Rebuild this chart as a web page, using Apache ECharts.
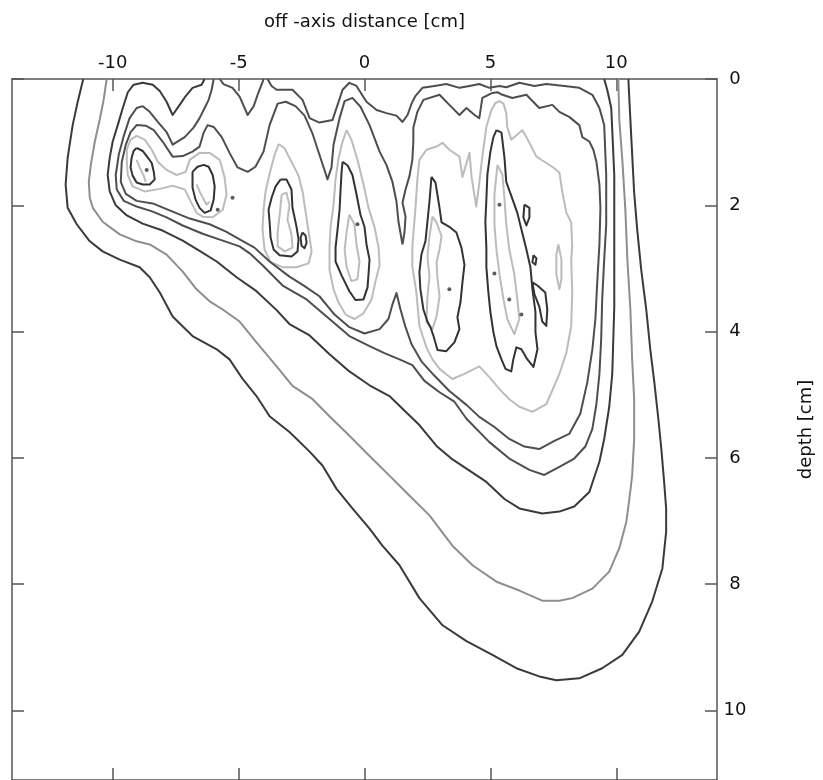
<!DOCTYPE html>
<html><head><meta charset="utf-8">
<script src="https://cdn.jsdelivr.net/npm/echarts@6/dist/echarts.min.js"></script>
<style>html,body{margin:0;padding:0;background:#fff}#c{width:823px;height:780px}</style>
</head><body><div id="c"></div>
<script>
// tick values
const xTicks = [-10, -5, 0, 5, 10];
const yTicks = [0, 2, 4, 6, 8, 10];

// contour lines [off-axis cm, depth cm]
const isoC1 = [[-11.17,0],[-11.39,0.36],[-11.59,0.73],[-11.71,1.04],[-11.79,1.25],[-11.87,1.67],[-11.79,2.04],[-11.43,2.30],[-10.91,2.57],[-10.40,2.73],[-9.72,2.86],[-8.93,2.98],[-8.53,3.14],[-8.13,3.38],[-7.62,3.76],[-6.83,4.07],[-5.87,4.28],[-5.36,4.44],[-4.84,4.75],[-4.29,5.02],[-3.77,5.34],[-2.98,5.59],[-2.18,5.90],[-1.67,6.12],[-1.11,6.49],[-0.48,6.80],[0.20,7.12],[0.71,7.39],[1.39,7.70],[2.18,8.22],[3.10,8.65],[4.05,8.90],[5.08,9.12],[6.03,9.33],[6.94,9.46],[7.62,9.52],[8.53,9.49],[9.44,9.33],[10.24,9.12],[10.91,8.75],[11.43,8.27],[11.83,7.75],[11.98,7.17],[11.98,6.80],[11.90,6.38],[11.79,5.86],[11.67,5.38],[11.51,4.80],[11.35,4.28],[11.19,3.65],[10.99,3.02],[10.83,2.38],[10.71,1.80],[10.60,0.96],[10.52,0.33],[10.48,0]];
const isoC2 = [[-10.24,0],[-10.36,0.33],[-10.52,0.65],[-10.71,0.99],[-10.87,1.36],[-10.95,1.63],[-10.91,1.88],[-10.79,2.04],[-10.40,2.26],[-9.72,2.46],[-9.05,2.57],[-8.53,2.62],[-7.86,2.78],[-7.22,3.05],[-6.67,3.33],[-6.15,3.52],[-5.63,3.65],[-4.96,3.84],[-4.29,4.17],[-3.49,4.55],[-2.86,4.86],[-2.06,5.07],[-1.39,5.34],[-0.60,5.65],[0.20,5.97],[0.99,6.28],[1.79,6.60],[2.58,6.91],[3.49,7.39],[4.29,7.70],[5.24,7.96],[6.15,8.10],[7.06,8.26],[7.74,8.26],[8.25,8.22],[9.05,8.07],[9.72,7.80],[10.12,7.43],[10.40,7.01],[10.52,6.65],[10.63,6.28],[10.71,5.70],[10.71,5.07],[10.63,4.44],[10.56,3.65],[10.44,2.86],[10.36,2.07],[10.24,1.28],[10.12,0.65],[10.08,0]];
const isoC3 = [[-6.35,0],[-6.47,0.09],[-6.83,0.14],[-7.10,0.27],[-7.34,0.41],[-7.62,0.57],[-7.86,0.36],[-8.13,0.19],[-8.41,0.09],[-8.81,0.06],[-9.17,0.09],[-9.40,0.21],[-9.60,0.46],[-9.80,0.73],[-10.00,0.99],[-10.12,1.25],[-10.20,1.52],[-10.12,1.78],[-9.88,2.00],[-9.44,2.16],[-8.81,2.29],[-8.02,2.40],[-7.22,2.56],[-6.55,2.72],[-5.87,2.89],[-5.08,3.14],[-4.29,3.36],[-3.49,3.66],[-2.98,3.88],[-2.18,4.06],[-1.39,4.36],[-0.60,4.63],[0.20,4.85],[0.99,5.02],[1.51,5.22],[2.18,5.48],[2.86,5.81],[3.45,6.01],[4.17,6.20],[4.84,6.38],[5.56,6.65],[6.15,6.80],[7.06,6.88],[7.74,6.85],[8.33,6.77],[8.93,6.54],[9.33,6.06],[9.52,5.70],[9.72,5.19],[9.84,4.67],[9.92,3.61],[9.92,2.70],[9.92,1.52],[9.80,0.46],[9.64,0.17],[9.52,0]];
const isoC4a = [[-5.75,0],[-5.60,0.08],[-5.24,0.14],[-4.96,0.28],[-4.64,0.57],[-4.40,0.43],[-4.21,0.21],[-4.05,0.05],[-4.01,0]];
const isoC4b = [[-5.99,0],[-6.07,0.17],[-6.19,0.33],[-6.35,0.46],[-6.55,0.62],[-6.79,0.77],[-7.14,0.92],[-7.62,1.04],[-7.86,0.84],[-8.21,0.68],[-8.53,0.52],[-8.81,0.43],[-9.05,0.46],[-9.33,0.62],[-9.56,0.90],[-9.76,1.20],[-9.88,1.52],[-9.84,1.75],[-9.56,1.93],[-9.05,2.02],[-8.41,2.10],[-7.86,2.19],[-7.22,2.32],[-6.43,2.45],[-5.63,2.56],[-4.96,2.65],[-4.56,2.76],[-4.05,2.95],[-3.25,3.27],[-2.30,3.49],[-1.39,3.80],[-0.60,4.07],[0.20,4.23],[0.79,4.34],[1.39,4.44],[1.90,4.53],[2.38,4.78],[2.98,4.96],[3.57,5.11],[4.05,5.38],[4.96,5.75],[5.75,6.01],[6.55,6.19],[7.14,6.27],[7.74,6.14],[8.33,6.01],[8.77,5.82],[9.05,5.54],[9.21,5.15],[9.33,4.67],[9.40,4.12],[9.44,3.49],[9.52,2.86],[9.60,2.30],[9.60,1.52],[9.52,0.73],[9.33,0.46],[9.05,0.25],[8.53,0.14],[7.94,0.11],[7.22,0.08],[6.75,0.11],[6.15,0.06],[5.63,0.13],[5.36,0.11],[4.96,0.14],[4.56,0.08],[4.17,0.11],[3.77,0.14],[3.25,0.08],[2.78,0.11],[2.30,0.14],[2.02,0.27],[1.87,0.39],[1.71,0.57],[1.51,0.68],[1.27,0.58],[0.87,0.54],[0.48,0.49],[0.08,0.36],[-0.32,0.11],[-0.60,0.06],[-0.87,0.17],[-1.07,0.41],[-1.27,0.65],[-1.79,0.69],[-2.18,0.62],[-2.46,0.33],[-2.86,0.17],[-3.49,0.17],[-3.69,0.11],[-3.85,0]];
const isoC5 = [[1.51,2.62],[1.59,2.42],[1.63,2.18],[1.51,1.96],[1.63,1.75],[1.79,1.53],[1.90,1.28],[1.94,0.99],[1.94,0.77],[2.10,0.52],[2.34,0.33],[2.98,0.25],[3.37,0.41],[3.77,0.57],[4.05,0.46],[4.37,0.57],[4.56,0.62],[4.68,0.30],[5.08,0.22],[5.28,0.21],[5.48,0.25],[5.87,0.30],[6.43,0.25],[6.94,0.46],[7.46,0.41],[7.74,0.52],[8.13,0.60],[8.53,0.73],[8.65,0.92],[8.93,0.99],[9.09,1.12],[9.21,1.31],[9.33,1.67],[9.37,2.04],[9.33,2.62],[9.25,3.17],[9.17,3.80],[9.05,4.28],[8.85,4.80],[8.57,5.30],[8.13,5.62],[7.54,5.73],[6.94,5.86],[6.35,5.82],[5.75,5.70],[5.16,5.51],[4.56,5.35],[4.05,5.16],[3.37,4.94],[2.78,4.70],[2.26,4.47],[1.87,4.20],[1.63,3.93],[1.43,3.65],[1.27,3.39],[1.11,3.57],[0.95,3.80],[0.60,3.96],[0,4.03],[-0.60,3.93],[-1.19,3.73],[-1.79,3.44],[-2.38,3.28],[-2.98,3.13],[-3.77,2.89],[-4.37,2.67],[-4.96,2.54],[-5.48,2.42],[-6.15,2.30],[-6.94,2.21],[-7.74,2.08],[-8.41,1.97],[-9.05,1.93],[-9.48,1.82],[-9.68,1.63],[-9.64,1.31],[-9.48,1.04],[-9.29,0.84],[-9.05,0.73],[-8.69,0.74],[-8.37,0.81],[-8.02,0.99],[-7.62,1.23],[-7.22,1.22],[-6.83,1.15],[-6.55,1.07],[-6.39,0.85],[-6.23,0.73],[-5.99,0.76],[-5.67,0.92],[-5.36,1.17],[-5.04,1.40],[-4.64,1.47],[-4.33,1.39],[-4.01,1.15],[-3.77,0.73],[-3.45,0.39],[-3.13,0.36],[-2.74,0.43],[-2.38,0.58],[-2.06,0.87],[-1.79,1.20],[-1.59,1.44],[-1.47,1.59],[-1.31,1.40],[-1.23,1.04],[-0.99,0.62],[-0.79,0.35],[-0.48,0.30],[-0.16,0.44],[0.20,0.73],[0.60,1.15],[0.87,1.36],[1.11,1.63],[1.27,1.94],[1.35,2.26]];

// light contours around hot spots
const light12 = [[-9.44,1.12],[-9.29,0.96],[-9.05,0.90],[-8.73,0.96],[-8.45,1.12],[-8.21,1.31],[-7.86,1.44],[-7.46,1.52],[-7.10,1.47],[-6.94,1.28],[-6.55,1.17],[-6.15,1.17],[-5.75,1.28],[-5.56,1.55],[-5.48,1.83],[-5.63,2.07],[-6.03,2.19],[-6.43,2.18],[-6.67,2.12],[-6.94,1.91],[-7.14,1.75],[-7.62,1.69],[-8.13,1.74],[-8.73,1.78],[-9.21,1.70],[-9.40,1.52],[-9.44,1.31]];
const light3 = [[-3.41,1.03],[-3.17,1.10],[-2.94,1.28],[-2.62,1.53],[-2.46,1.78],[-2.34,2.10],[-2.22,2.42],[-2.10,2.73],[-2.22,2.92],[-2.70,2.98],[-3.25,2.98],[-3.73,2.90],[-3.97,2.70],[-4.05,2.38],[-4.01,2.07],[-3.93,1.78],[-3.77,1.50],[-3.57,1.20]];
const light4 = [[-0.71,0.81],[-0.52,0.96],[-0.28,1.28],[-0.04,1.67],[0.16,2.04],[0.40,2.35],[0.56,2.67],[0.60,2.95],[0.44,3.20],[0.28,3.49],[-0.04,3.71],[-0.40,3.80],[-0.75,3.73],[-1.03,3.54],[-1.23,3.33],[-1.39,3.02],[-1.39,2.67],[-1.35,2.35],[-1.23,1.99],[-1.15,1.59],[-1.03,1.25],[-0.87,0.99]];
const lightR = [[1.90,2.65],[2.02,2.07],[2.10,1.59],[2.18,1.28],[2.46,1.12],[2.86,1.07],[3.10,1.01],[3.37,1.12],[3.77,1.23],[3.89,1.55],[4.17,1.17],[4.25,1.55],[4.44,2.02],[4.56,1.64],[4.68,1.23],[4.84,0.76],[5.04,0.49],[5.20,0.38],[5.36,0.35],[5.52,0.39],[5.63,0.54],[5.67,0.76],[5.83,0.96],[6.07,0.88],[6.27,0.81],[6.43,0.92],[6.55,1.01],[6.83,1.23],[7.22,1.33],[7.46,1.39],[7.74,1.48],[7.86,1.80],[8.02,2.12],[8.21,2.27],[8.25,2.65],[8.21,2.86],[8.25,3.38],[8.21,3.91],[8.02,4.33],[7.74,4.67],[7.22,5.15],[6.67,5.27],[6.15,5.19],[5.75,5.07],[5.36,4.91],[4.96,4.72],[4.56,4.55],[3.97,4.67],[3.49,4.75],[2.98,4.59],[2.70,4.44],[2.46,4.25],[2.18,3.91],[2.06,3.38],[1.90,2.97]];
const lightSmall = [[7.70,2.62],[7.82,2.86],[7.82,3.17],[7.74,3.33],[7.62,3.09],[7.62,2.78]];
const inner1 = [[-9.05,1.28],[-8.93,1.40],[-8.77,1.53],[-8.69,1.63]];
const inner2 = [[-6.67,1.67],[-6.55,1.78],[-6.27,1.99],[-6.15,1.94]];
const inner3 = [[-3.29,1.83],[-3.10,1.80],[-2.98,1.99],[-3.06,2.23],[-2.90,2.46],[-2.86,2.67],[-3.17,2.73],[-3.45,2.65],[-3.45,2.42],[-3.37,2.15]];
const inner4 = [[-0.60,2.15],[-0.40,2.30],[-0.32,2.62],[-0.20,2.89],[-0.28,3.17],[-0.52,3.20],[-0.71,2.98],[-0.79,2.70],[-0.71,2.42]];
const inner5 = [[2.70,2.18],[2.86,2.27],[3.06,2.49],[2.98,2.70],[2.86,2.90],[2.90,3.17],[2.98,3.44],[2.86,3.76],[2.70,3.96],[2.46,3.85],[2.50,3.44],[2.58,3.13],[2.50,2.81],[2.58,2.49]];
const inner6 = [[5.28,1.36],[5.48,1.52],[5.56,1.91],[5.63,2.30],[5.75,2.70],[5.95,3.09],[6.07,3.49],[6.15,3.80],[5.95,4.04],[5.67,3.80],[5.52,3.49],[5.36,3.09],[5.24,2.70],[5.16,2.30],[5.16,1.83]];

// hot-spot contours
const hot1 = [[-9.05,1.09],[-8.81,1.14],[-8.65,1.22],[-8.45,1.33],[-8.37,1.47],[-8.33,1.59],[-8.53,1.67],[-8.81,1.67],[-9.05,1.64],[-9.21,1.53],[-9.29,1.40],[-9.25,1.25],[-9.17,1.14]];
const hot2 = [[-6.83,1.47],[-6.63,1.39],[-6.39,1.36],[-6.19,1.39],[-6.03,1.52],[-5.95,1.70],[-5.99,1.91],[-6.11,2.08],[-6.35,2.12],[-6.55,2.04],[-6.71,1.91],[-6.83,1.72]];
const hot3 = [[-3.33,1.59],[-3.10,1.59],[-2.90,1.75],[-2.86,2.04],[-2.70,2.34],[-2.62,2.54],[-2.66,2.73],[-2.90,2.81],[-3.37,2.79],[-3.61,2.70],[-3.73,2.51],[-3.77,2.26],[-3.81,2.07],[-3.69,1.88],[-3.53,1.70]];
const hot4 = [[-0.87,1.31],[-0.67,1.37],[-0.48,1.52],[-0.32,1.82],[-0.16,2.15],[0,2.34],[0.08,2.62],[0.20,2.86],[0.16,3.09],[0.12,3.30],[-0.04,3.49],[-0.36,3.50],[-0.60,3.36],[-0.91,3.11],[-1.15,2.89],[-1.15,2.67],[-1.07,2.38],[-0.99,2.07],[-0.95,1.75],[-0.91,1.47]];
const hot5 = [[2.66,1.55],[2.82,1.64],[2.98,2.04],[3.06,2.27],[3.37,2.34],[3.65,2.43],[3.85,2.67],[3.97,2.94],[3.89,3.22],[3.81,3.54],[3.69,3.77],[3.77,3.96],[3.57,4.17],[3.25,4.31],[2.90,4.29],[2.74,4.07],[2.62,3.93],[2.50,3.84],[2.34,3.65],[2.22,3.33],[2.18,3.06],[2.26,2.78],[2.42,2.57],[2.50,2.26],[2.58,1.94]];
const hot6 = [[5.24,0.81],[5.44,0.85],[5.56,1.25],[5.63,1.63],[5.83,1.85],[6.07,2.12],[6.23,2.38],[6.43,2.70],[6.59,2.98],[6.67,3.33],[6.79,3.69],[6.79,4.01],[6.87,4.28],[6.71,4.56],[6.47,4.44],[6.23,4.28],[6.03,4.25],[5.91,4.44],[5.83,4.63],[5.60,4.59],[5.44,4.44],[5.24,4.23],[5.12,4.01],[5.00,3.69],[4.92,3.38],[4.84,2.98],[4.84,2.67],[4.80,2.26],[4.84,1.91],[4.88,1.52],[5.00,1.15],[5.12,0.92]];
const hotChain1 = [[6.35,1.99],[6.55,2.04],[6.55,2.19],[6.43,2.32],[6.31,2.19]];
const hotChain2 = [[6.71,2.79],[6.83,2.84],[6.79,2.94],[6.67,2.90]];
const hotChain3 = [[6.67,3.22],[6.87,3.27],[7.18,3.38],[7.26,3.65],[7.22,3.91],[7.06,3.84],[6.94,3.60],[6.75,3.41]];
const hotRing = [[-2.46,2.43],[-2.34,2.48],[-2.30,2.59],[-2.38,2.68],[-2.50,2.64],[-2.54,2.51]];
const hotDots = [[-8.65,1.44],[-5.83,2.07],[-5.24,1.88],[-0.28,2.30],[3.37,3.33],[5.75,3.49],[6.23,3.73],[5.36,1.99],[5.16,3.08]];

const COLORS = { dark: '#3a3a3a', mid: '#4e4e4e', gray: '#8e8e8e', light: '#bcbcbc', hot: '#333333' };
const layers = [
  [light12, 'light', true], [light3, 'light', true], [light4, 'light', true], [lightR, 'light', true],
  [lightSmall, 'light', true], [inner1, 'light', false], [inner2, 'light', false], [inner3, 'light', true],
  [inner4, 'light', true], [inner5, 'light', true], [inner6, 'light', true],
  [isoC1, 'dark', false], [isoC2, 'gray', false], [isoC3, 'dark', false],
  [isoC4a, 'mid', false], [isoC4b, 'mid', false], [isoC5, 'mid', true],
  [hot1, 'hot', true], [hot2, 'hot', true], [hot3, 'hot', true], [hot4, 'hot', true],
  [hot5, 'hot', true], [hot6, 'hot', true], [hotChain1, 'hot', true], [hotChain2, 'hot', true],
  [hotChain3, 'hot', true], [hotRing, 'hot', true]
];

const series = layers.map(([pts, key, closed]) => ({
  type: 'line',
  data: closed ? pts.concat([pts[0]]) : pts,
  xAxisIndex: 0, yAxisIndex: 0,
  showSymbol: false, symbol: 'none', silent: true,
  lineStyle: { color: COLORS[key], width: 2, join: 'round' },
  clip: true, z: key === 'light' ? 2 : 3
}));
series.push({
  type: 'scatter', data: hotDots, xAxisIndex: 0, yAxisIndex: 0,
  symbolSize: 4, itemStyle: { color: COLORS.hot }, silent: true, z: 4
});

const axisColor = '#555';
const font = 'DejaVu Sans';
const lineCfg = { show: true, onZero: false, lineStyle: { color: axisColor, width: 1.5 } };
const chart = echarts.init(document.getElementById('c'), null, { renderer: 'canvas' });
chart.setOption({
  animation: false,
  backgroundColor: '#fff',
  grid: { left: 12, right: 105, top: 79, bottom: -2, containLabel: false },
  xAxis: [
    {
      type: 'value', position: 'top', min: -14, max: 14,
      name: 'off -axis distance [cm]', nameLocation: 'middle', nameGap: 48,
      nameTextStyle: { fontFamily: font, fontSize: 18, color: '#111' },
      axisLine: lineCfg,
      axisTick: { show: true, inside: true, length: 12, customValues: xTicks, lineStyle: { color: axisColor, width: 1.5 } },
      axisLabel: { customValues: xTicks, fontFamily: font, fontSize: 18, color: '#111', margin: 7 },
      splitLine: { show: false }
    },
    {
      type: 'value', position: 'bottom', min: -14, max: 14,
      axisLine: lineCfg,
      axisTick: { show: true, inside: true, length: 12, customValues: xTicks, lineStyle: { color: axisColor, width: 1.5 } },
      axisLabel: { show: false }, splitLine: { show: false }
    }
  ],
  yAxis: [
    {
      type: 'value', position: 'right', inverse: true, min: 0, max: 11.1,
      name: 'depth [cm]', nameLocation: 'middle', nameGap: 80, nameRotate: 90,
      nameTextStyle: { fontFamily: font, fontSize: 18, color: '#111' },
      axisLine: lineCfg,
      axisTick: { show: true, inside: true, length: 12, customValues: yTicks, lineStyle: { color: axisColor, width: 1.5 } },
      axisLabel: { customValues: yTicks, fontFamily: font, fontSize: 18, color: '#111', margin: 18, align: 'center' },
      splitLine: { show: false }
    },
    {
      type: 'value', position: 'left', inverse: true, min: 0, max: 11.1,
      axisLine: lineCfg,
      axisTick: { show: true, inside: true, length: 12, customValues: yTicks, lineStyle: { color: axisColor, width: 1.5 } },
      axisLabel: { show: false }, splitLine: { show: false }
    }
  ],
  series: series
});
</script>
</body></html>
